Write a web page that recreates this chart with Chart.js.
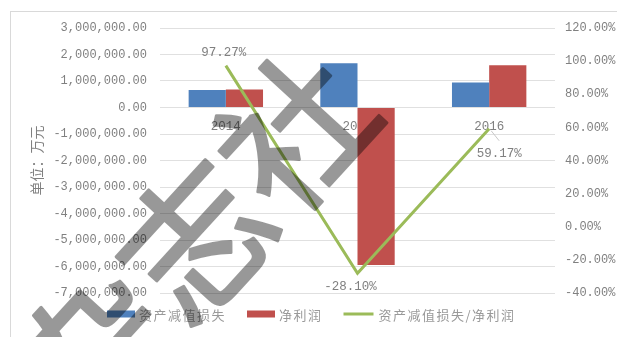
<!DOCTYPE html>
<html>
<head>
<meta charset="utf-8">
<script src="https://cdn.jsdelivr.net/npm/chart.js@4.4.0/dist/chart.umd.min.js"></script>
<style>
  html, body { margin: 0; padding: 0; background: #fff; }
</style>
</head>
<body>
<canvas id="myChart" width="617" height="337"></canvas>
<script>
// datos
const labels = ['2014', '2015', '2016'];
const impairment = [661000, 1670000, 940000];      // 资产减值损失
const netProfit = [680000, -5940000, 1590000];     // 净利润
const ratio = [97.27, -28.10, 59.17];              // 资产减值损失/净利润 (%)
const ratioText = ['97.27%', '-28.10%', '59.17%'];

const blue = '#4F81BD';
const red = '#C0504D';
const green = '#9BBB59';
const tickFont = { family: '"Liberation Mono", monospace', size: 12 };

// marco exterior gris
const frame = {
  id: 'frame',
  beforeDraw(chart) {
    const c = chart.ctx;
    c.save();
    c.fillStyle = '#fff';
    c.fillRect(0, 0, chart.width, chart.height);
    c.strokeStyle = '#d9d9d9';
    c.lineWidth = 1;
    c.strokeRect(10.5, 11.5, 700, 400);
    c.restore();
  }
};

// etiquetas de la línea
const lineLabels = {
  id: 'lineLabels',
  afterDatasetsDraw(chart) {
    const meta = chart.getDatasetMeta(2);
    const c = chart.ctx;
    c.save();
    c.font = '12.5px "Liberation Mono", monospace';
    c.fillStyle = '#808080';
    c.textAlign = 'center';
    c.textBaseline = 'middle';
    meta.data.forEach((pt, i) => {
      let x = pt.x, y = pt.y;
      if (i === 0) { x -= 2; y -= 13; }
      else if (i === 1) { x -= 7; y += 13; }
      else {
        c.strokeStyle = '#c8c8c8';
        c.lineWidth = 1;
        c.beginPath();
        c.moveTo(x + 2, y + 2);
        c.lineTo(x + 10, y + 12);
        c.stroke();
        x += 10; y += 25;
      }
      c.fillText(ratioText[i], x, y);
    });
    c.restore();
  }
};

// leyenda abajo
const bottomLegend = {
  id: 'bottomLegend',
  afterDraw(chart) {
    const c = chart.ctx;
    const ds = chart.data.datasets;
    c.save();
    c.font = '13px "Noto Sans CJK SC"';
    c.letterSpacing = '1.5px';
    c.textBaseline = 'middle';
    let x = 107;
    const y = 314;
    ds.forEach(d => {
      if (d.type === 'line') {
        c.fillStyle = d.borderColor;
        c.fillRect(x, y - 1.5, 30, 3);
        x += 35;
      } else {
        c.fillStyle = d.backgroundColor;
        c.fillRect(x, y - 3.5, 28, 7);
        x += 32;
      }
      c.fillStyle = '#999';
      c.fillText(d.label, x, y + 1);
      x += c.measureText(d.label).width + 21;
    });
    c.restore();
  }
};

// marca de agua (se dibuja opaca aparte y luego se mezcla)
const watermark = {
  id: 'watermark',
  afterDraw(chart) {
    const off = document.createElement('canvas');
    off.width = chart.width;
    off.height = chart.height;
    const o = off.getContext('2d');
    o.translate(195, 240);
    o.rotate(-47.5 * Math.PI / 180);
    o.font = '148px "Noto Sans CJK SC"';
    o.fillStyle = '#000';
    o.strokeStyle = '#000';
    o.lineWidth = 3;
    o.lineJoin = 'round';
    o.textAlign = 'center';
    o.textBaseline = 'middle';
    o.fillText('杂志社', 0, 0);
    o.strokeText('杂志社', 0, 0);
    const c = chart.ctx;
    c.save();
    c.globalAlpha = 0.4;
    c.drawImage(off, 0, 0);
    c.restore();
  }
};

const ctx = document.getElementById('myChart').getContext('2d');

const config = {
  data: {
    labels: labels,
    datasets: [
      { type: 'bar', label: '资产减值损失', data: impairment, backgroundColor: blue, yAxisID: 'y', order: 1 },
      { type: 'bar', label: '净利润', data: netProfit, backgroundColor: red, yAxisID: 'y', order: 1 },
      { type: 'line', label: '资产减值损失/净利润', data: ratio, borderColor: green, backgroundColor: green,
        borderWidth: 3, pointRadius: 0, tension: 0, yAxisID: 'y1', order: 0 }
    ]
  },
  options: {
    responsive: false,
    animation: false,
    devicePixelRatio: 1,
    layout: { padding: { top: 28, left: 0, right: 0, bottom: 44 } },
    datasets: { bar: { barPercentage: 1, categoryPercentage: 0.565 } },
    plugins: {
      legend: { display: false },
      tooltip: { enabled: false }
    },
    scales: {
      x: {
        position: { y: 0 },
        grid: { display: false },
        border: { display: false },
        ticks: { font: { family: '"Liberation Mono", monospace', size: 12.5 }, color: '#808080', padding: 4 }
      },
      y: {
        position: 'left',
        min: -7000000,
        max: 3000000,
        ticks: {
          stepSize: 1000000,
          padding: 13,
          font: tickFont,
          color: '#808080',
          callback: v => v.toLocaleString('en-US', { minimumFractionDigits: 2, maximumFractionDigits: 2 })
        },
        grid: { color: '#e0e0e0', drawTicks: false },
        border: { display: false },
        title: {
          display: true,
          text: '单位：万元',
          color: '#808080',
          font: { family: '"Noto Sans CJK SC"', size: 14 },
          padding: { top: 28, bottom: 0 }
        },
        afterFit(s) { s.width = 160; }
      },
      y1: {
        position: 'right',
        min: -40,
        max: 120,
        ticks: {
          stepSize: 20,
          padding: 10,
          font: tickFont,
          color: '#808080',
          callback: v => v.toFixed(2) + '%'
        },
        grid: { display: false, drawTicks: false },
        border: { display: false },
        afterFit(s) { s.width = 62; }
      }
    }
  },
  plugins: [frame, lineLabels, bottomLegend, watermark]
};

const myChart = new Chart(ctx, config);
</script>
</body>
</html>
